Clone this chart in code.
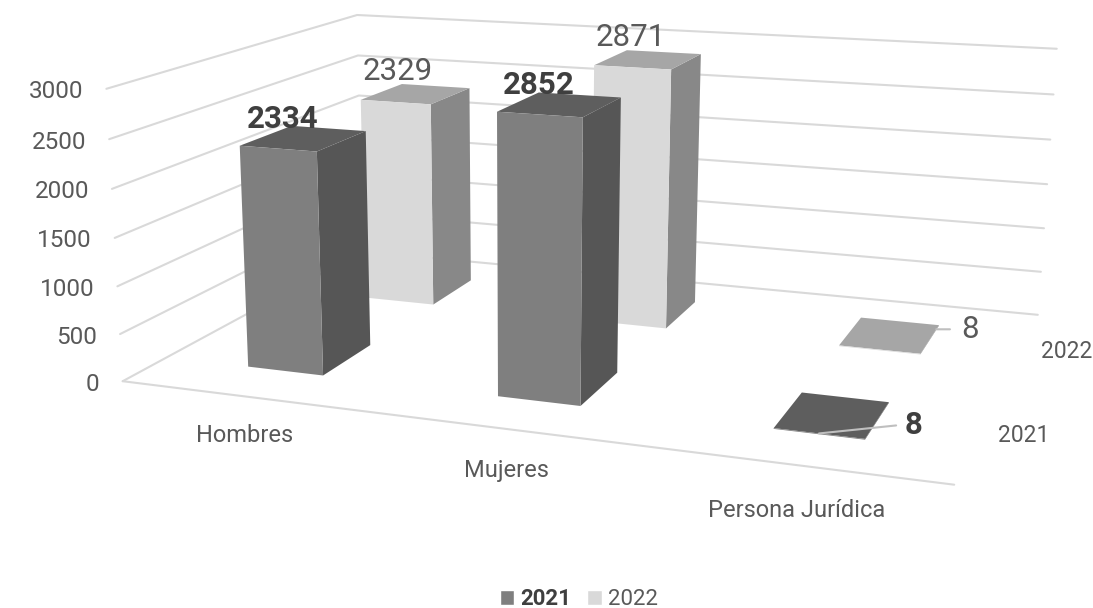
import numpy as np, pandas as pd, seaborn as sns, matplotlib
matplotlib.use("Agg")
import matplotlib.pyplot as plt
from matplotlib.patches import Patch
from mpl_toolkits.mplot3d import proj3d

categories = ["Hombres", "Mujeres", "Persona Jurídica"]
series = ["2021", "2022"]
values_2021 = [2334, 2852, 8]
values_2022 = [2329, 2871, 8]
z_ticks = [0, 500, 1000, 1500, 2000, 2500, 3000]

sns.set_theme(style="white")
plt.rcParams["font.family"] = ["Roboto", "DejaVu Sans"]
W, H = 1093, 608
TXT = "#595959"; DARK = "#3f3f3f"; GRID = "#d9d9d9"
front = sns.color_palette(["#7f7f7f", "#d9d9d9"])
side = sns.color_palette(["#565656", "#888888"])
top = sns.color_palette(["#5e5e5e", "#a6a6a6"])

df = pd.DataFrame({"categoria": categories * 2,
                   "serie": np.repeat(series, 3),
                   "valor": values_2021 + values_2022})

fig = plt.figure(figsize=(W / 100, H / 100), dpi=100)
ax = fig.add_axes([0, 0, 1, 1], projection="3d", computed_zorder=False)
ax.apply_aspect = lambda position=None: None
ax.set_axis_off()
nx, ny, zmax = len(categories), len(series), max(z_ticks)
ax.set_xlim(0, nx); ax.set_ylim(0, ny); ax.set_zlim(0, zmax)

# camera of the reference, fitted from the corners of the chart's box (pixels)
box = [(0, 0, 0, 125, 378), (nx, 0, 0, 955, 487), (0, ny, 0, 360, 255), (nx, ny, 0, 1038, 312),
       (0, 0, zmax, 105, 90), (0, ny, zmax, 360, 13), (nx, ny, zmax, 1055, 50),
       (nx, ny, 1500, 1048, 184), (0, 0, 1500, 113, 238)]
inv = ax.transData.inverted()
A = []
for x, y, z, u, v in box:
    u, v = inv.transform((u, H - v))
    A.append([x, y, z, 1, 0, 0, 0, 0, -u * x, -u * y, -u * z, -u])
    A.append([0, 0, 0, 0, x, y, z, 1, -v * x, -v * y, -v * z, -v])
P = np.linalg.svd(np.array(A, float))[2][-1].reshape(3, 4)
P = P / P[2, 3]
M = np.vstack([P[0], P[1], [0, 0, 0, -1], P[2]])
ax.get_proj = lambda: M
ax.M = M

def view(x, y, z):
    vx, vy, _ = proj3d.proj_transform(x, y, z, M)
    return float(vx), float(vy)

def note(s, xyz, dx, dy, **kw):
    kw.setdefault("color", TXT)
    kw.setdefault("fontsize", 17)
    kw.setdefault("ha", "center")
    kw.setdefault("va", "center")
    return ax.annotate(s, xy=view(*xyz), xytext=(dx, dy), textcoords="offset pixels",
                       annotation_clip=False, zorder=10, **kw)

# walls: horizontal gridlines on left and back walls, plus the floor's front edge
for z in z_ticks:
    ax.plot([0, 0, nx], [0, ny, ny], [z, z, z], color=GRID, lw=1.5, zorder=1, clip_on=False)
    note(str(z), (0, 0, z), -23, -3, ha="right", fontsize=17.5)
ax.plot([0, nx], [0, 0], [0, 0], color=GRID, lw=1.5, zorder=1, clip_on=False)

# bars; back series first. Hidden faces get no paint
bw, bd = 0.31, 0.40
clear = (0, 0, 0, 0)
for j in [1, 0]:
    s = series[j]
    vals = df[df.serie == s].valor.to_numpy()
    for i, val in enumerate(vals):
        faces = [clear, top[j], front[j], clear, clear, side[j]]
        col = ax.bar3d(i + 0.5 - bw / 2, j + 0.51 - bd / 2, 0, bw, bd, val,
                       color=faces, shade=False, zorder=3 + (1 - j) + i * 0.1,
                       edgecolor="none")
        col.set_clip_on(False)
        col.set_zsort("max")

# value labels
for i in range(2):
    for j, vals in enumerate([values_2021, values_2022]):
        bold = j == 0
        note(str(vals[i]), (i + 0.5, j + 0.51, vals[i]), -21 if bold else -18, 19 if bold else 22,
             fontsize=22.5, fontweight="bold" if bold else "normal",
             color=DARK if bold else TXT)

line = dict(arrowstyle="-", color="#bfbfbf", lw=1.5, shrinkA=0, shrinkB=0)
note(str(values_2021[2]), (2.5, 0.31, values_2021[2]), 95, 8, fontsize=22.5, fontweight="bold",
     color=DARK, arrowprops=dict(relpos=(-0.5, 0.5), **line))
note(str(values_2022[2]), (2.655, 1.65, values_2022[2]), 34, 0, fontsize=22.5,
     arrowprops=dict(relpos=(-0.65, 0.5), **line))

# axis labels
for i, c in enumerate(categories):
    note(c, (i + 0.5, 0, 0), 0, -39 - 3 * i)
for j, s in enumerate(series):
    note(s, (nx, j + 0.5, 0), 44 + 2 * j, -2, fontsize=16.5)

handles = [Patch(facecolor=front[0], label=series[0]), Patch(facecolor=front[1], label=series[1])]
leg = fig.legend(handles=handles, loc="center", bbox_to_anchor=(579 / W, 1 - 599 / H), ncol=2,
                 frameon=False, fontsize=16, handlelength=0.65, handleheight=0.65,
                 handletextpad=0.3, columnspacing=0.7, labelcolor=TXT)
leg.get_texts()[0].set_fontweight("bold")
leg.get_texts()[0].set_color(DARK)

fig.savefig("out.png", dpi=100)
